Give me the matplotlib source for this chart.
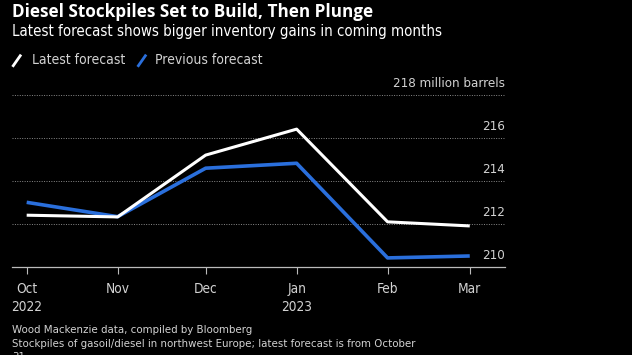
import numpy as np
import matplotlib.pyplot as plt
from matplotlib.lines import Line2D

# -------------------
# DATA
# -------------------
months = np.array(["2022-10-01", "2022-11-01", "2022-12-01",
                   "2023-01-01", "2023-02-01", "2023-03-01"], dtype="datetime64[D]")
month_labels = ["Oct\n2022", "Nov", "Dec", "Jan\n2023", "Feb", "Mar"]
latest = [212.40, 212.32, 215.20, 216.41, 212.09, 211.90]
previous = [213.00, 212.33, 214.59, 214.82, 210.41, 210.50]
y_ticks = [210, 212, 214, 216, 218]

BG = "black"
BLUE = "#2a6fdc"
GREY = "#d2d2d2"

plt.rcParams["font.family"] = ["DejaVu Sans"]
plt.rcParams["font.stretch"] = "condensed"

# -------------------
# PLOT
# -------------------
fig = plt.figure(figsize=(6.32, 3.55), dpi=100, facecolor=BG)
ax = fig.add_axes([0.019, 0.2487, 0.78, 0.4837], facecolor=BG)

ax.plot(months, previous, color=BLUE, lw=2.6, solid_capstyle="butt", zorder=3)
ax.plot(months, latest, color="white", lw=2.2, solid_capstyle="butt", zorder=4)

ax.set_ylim(210, 218)
ax.set_xlim(np.datetime64("2022-09-26"), np.datetime64("2023-03-13"))

ax.set_yticks(y_ticks)
ax.yaxis.tick_right()
ax.set_yticklabels([])
for y in y_ticks[1:]:
    ax.axhline(y, color="#8a8a8a", lw=0.7, ls=(0, (1, 1.5)), zorder=1)
for y in y_ticks:
    lab = f"{y} million barrels" if y == 218 else str(y)
    ax.text(1.0, y + 0.22, lab, transform=ax.get_yaxis_transform(),
            ha="right", va="bottom", color=GREY, fontsize=9.5)
ax.tick_params(axis="y", length=0)

ax.set_xticks(months)
ax.set_xticklabels(month_labels, color=GREY, fontsize=9.8, linespacing=1.4)
ax.tick_params(axis="x", length=5, width=0.8, color="#bbbbbb", pad=6)

for s in ["top", "left", "right"]:
    ax.spines[s].set_visible(False)
ax.spines["bottom"].set_color("#bbbbbb")
ax.spines["bottom"].set_linewidth(0.9)

# titles
fig.text(0.019, 0.952, "Diesel Stockpiles Set to Build, Then Plunge",
         color="white", fontsize=12.3, fontweight="bold", va="baseline",
         family="Open Sans", fontstretch="condensed")
fig.text(0.019, 0.898, "Latest forecast shows bigger inventory gains in coming months",
         color="white", fontsize=10.8, va="baseline")

# legend
fig.add_artist(Line2D([0.021, 0.032], [0.815, 0.843], color="white", lw=2,
                      transform=fig.transFigure))
fig.text(0.05, 0.83, "Latest forecast", color=GREY, fontsize=10, va="center")
fig.add_artist(Line2D([0.219, 0.230], [0.815, 0.843], color=BLUE, lw=2,
                      transform=fig.transFigure))
fig.text(0.245, 0.83, "Previous forecast", color=GREY, fontsize=10, va="center")

# source
fig.text(0.019, 0.070, "Wood Mackenzie data, compiled by Bloomberg",
         color=GREY, fontsize=8.2, va="center")
fig.text(0.019, 0.031, "Stockpiles of gasoil/diesel in northwest Europe; latest forecast is from October",
         color=GREY, fontsize=8.2, va="center")
fig.text(0.019, -0.005, "31", color=GREY, fontsize=8.2, va="center")

fig.savefig("out.png", dpi=100, facecolor=BG)
